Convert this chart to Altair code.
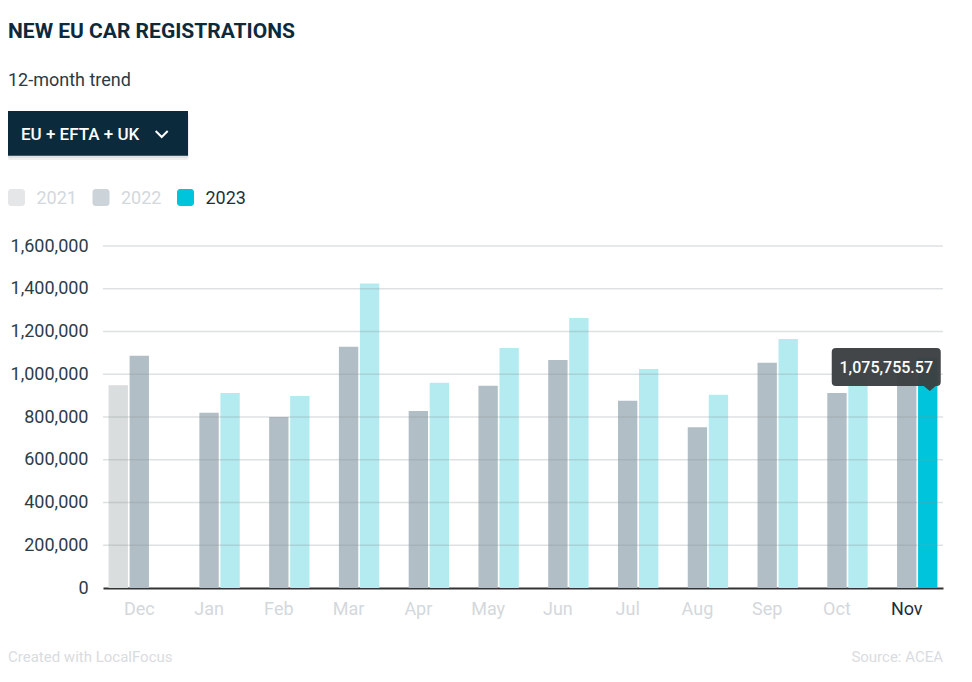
import altair as alt
import pandas as pd

# ---------------- data ----------------
months = ["Dec", "Jan", "Feb", "Mar", "Apr", "May", "Jun", "Jul", "Aug", "Sep", "Oct", "Nov"]
years = ["2021", "2022", "2023"]
reg_2021 = [948000, None, None, None, None, None, None, None, None, None, None, None]
reg_2022 = [1087000, 820000, 800000, 1129000, 828000, 946000, 1067000, 876000, 752000, 1054000, 912000, 1008000]
reg_2023 = [None, 912000, 898000, 1425000, 960000, 1123000, 1263000, 1025000, 904000, 1165000, 1045000, 1075755.57]
y_ticks = [0, 200000, 400000, 600000, 800000, 1000000, 1200000, 1400000, 1600000]
highlight_month = "Nov"
highlight_year = "2023"
tooltip_label = "1,075,755.57"

title_text = "NEW EU CAR REGISTRATIONS"
subtitle_text = "12-month trend"
button_text = "EU + EFTA + UK"
footer_left = "Created with LocalFocus"
footer_right = "Source:  ACEA"

# ---------------- styles ----------------
FONT = "Roboto"
DARK = "#0d2a3c"
bar_colors = {"2021": "#dadddd", "2022": "#b2bec5", "2023": "#b3ebf0", "hl": "#00c4dc"}
legend_colors = ["#e4e6e7", "#ccd4d9", "#00c4db"]
legend_label_colors = ["#d3d8dc", "#d3d8dc", "#1e2f3b"]

rows = []
for series_year, series in zip(years, [reg_2021, reg_2022, reg_2023]):
    for m, v in zip(months, series):
        if v is None:
            continue
        shade = "hl" if (m == highlight_month and series_year == highlight_year) else series_year
        rows.append({"month": m, "year": series_year, "value": v, "shade": shade})
df = pd.DataFrame(rows)
hl_df = df[(df.month == highlight_month) & (df.year == highlight_year)].copy()
hl_df["label"] = tooltip_label
grid_df = pd.DataFrame({"value": [t for t in y_ticks if t > 0]})
one = pd.DataFrame({"k": [0]})

yscale = alt.Scale(domain=[0, 1600000], nice=False)
yaxis = alt.Axis(values=y_ticks, labelExpr="format(datum.value, ',')", grid=False, ticks=False,
                 domain=False, labelFont=FONT, labelFontSize=18, labelColor="#2c3d49",
                 labelPadding=15)
xaxis = alt.Axis(
    ticks=False, domainColor="#333333", domainWidth=2, labelFont=FONT,
    labelFontSize=18, labelPadding=12, labelAngle=0,
    labelColor=alt.ExprRef("datum.value == 'Nov' ? '#1e2f3b' : '#d3d8dc'"),
)
xscale = alt.Scale(paddingInner=0.12, paddingOuter=0.08)


def xenc():
    return alt.X("month:N", sort=months, title=None, scale=xscale, axis=xaxis)


def yenc():
    return alt.Y("value:Q", scale=yscale, title=None, axis=yaxis)


xoff = alt.XOffset("year:N", sort=years, scale=alt.Scale(domain=years, paddingInner=0.08))

bars = alt.Chart(df).mark_bar().encode(
    x=xenc(),
    xOffset=xoff,
    y=yenc(),
    color=alt.Color("shade:N", scale=alt.Scale(domain=list(bar_colors.keys()),
                                               range=list(bar_colors.values())), legend=None),
)

grid = alt.Chart(grid_df).mark_rule(color="#8a9298", opacity=0.28, strokeWidth=1.5).encode(
    y=yenc()
)

tip_path = ("M-92,-10 L9,-10 Q13,-10 13,-6 L13,24 Q13,28 9,28 L8,28 L2,33 L-4,28 "
            "L-92,28 Q-96,28 -96,24 L-96,-6 Q-96,-10 -92,-10 Z")
tip_box = alt.Chart(hl_df).mark_point(shape=tip_path, size=4, filled=True, color="#3b3e41",
                                      opacity=0.96, strokeWidth=0).encode(
    x=xenc(), xOffset=xoff, y=yenc()
)
tip_text = alt.Chart(hl_df).mark_text(font=FONT, fontSize=16, fontWeight=500, color="white",
                                      align="center", baseline="alphabetic", dx=-41.5, dy=15).encode(
    x=xenc(), xOffset=xoff, y=yenc(),
    text="label:N",
)

# ---------------- decorations (pixel positions relative to plot origin) ----------------
title = alt.Chart(one).mark_text(text=title_text, font=FONT, fontSize=21, fontWeight="bold",
                                 color=DARK, align="left", baseline="alphabetic").encode(
    x=alt.value(-95), y=alt.value(-207.7))
subtitle = alt.Chart(one).mark_text(text=subtitle_text, font=FONT, fontSize=18,
                                    color="#2b3a45", align="left", baseline="alphabetic").encode(
    x=alt.value(-95), y=alt.value(-160))

shadow1 = alt.Chart(one).mark_rect(color="#000000", opacity=0.06, cornerRadius=3).encode(
    x=alt.value(-96), x2=alt.value(86), y=alt.value(-133), y2=alt.value(-86))
shadow2 = alt.Chart(one).mark_rect(color="#000000", opacity=0.06, cornerRadius=2).encode(
    x=alt.value(-95), x2=alt.value(85), y=alt.value(-134), y2=alt.value(-88))
button = alt.Chart(one).mark_rect(color="#0b2b3d").encode(
    x=alt.value(-95), x2=alt.value(85), y=alt.value(-135), y2=alt.value(-90.3))
button_label = alt.Chart(one).mark_text(text=button_text, font=FONT, fontSize=17, fontWeight=500,
                                        color="white", align="left", baseline="alphabetic").encode(
    x=alt.value(-82), y=alt.value(-106))
chevron = alt.Chart(one).mark_point(shape="M-6,-3 L0,3 L6,-3", size=4, filled=False,
                                    color="white", strokeWidth=2, opacity=1).encode(
    x=alt.value(58.7), y=alt.value(-112))

legend_layers = []
for i, (yr, col, lcol) in enumerate(zip(years, legend_colors, legend_label_colors)):
    x0 = -95 + i * 84.5
    legend_layers.append(alt.Chart(one).mark_rect(color=col, cornerRadius=3).encode(
        x=alt.value(x0), x2=alt.value(x0 + 17), y=alt.value(-57), y2=alt.value(-40)))
    legend_layers.append(alt.Chart(one).mark_text(text=yr, font=FONT, fontSize=18, color=lcol,
                                                  align="left", baseline="alphabetic").encode(
        x=alt.value(x0 + 28.5), y=alt.value(-42)))

foot_l = alt.Chart(one).mark_text(text=footer_left, font=FONT, fontSize=15, color="#d9dcdf",
                                  align="left", baseline="alphabetic").encode(
    x=alt.value(-95), y=alt.value(416))
foot_r = alt.Chart(one).mark_text(text=footer_right, font=FONT, fontSize=15, color="#d9dcdf",
                                  align="right", baseline="alphabetic").encode(
    x=alt.value(840), y=alt.value(416))

chart = alt.layer(
    bars, grid, tip_box, tip_text, title, subtitle, shadow1, shadow2, button, button_label,
    chevron, *legend_layers, foot_l, foot_r
).properties(
    width=840, height=342,
    padding={"left": 95, "top": 238, "right": 20, "bottom": 80},
    autosize=alt.AutoSizeParams(type="none"),
    background="white",
).configure_view(stroke=None)

chart.save("out.html", embed_options={"renderer": "svg", "actions": False})
